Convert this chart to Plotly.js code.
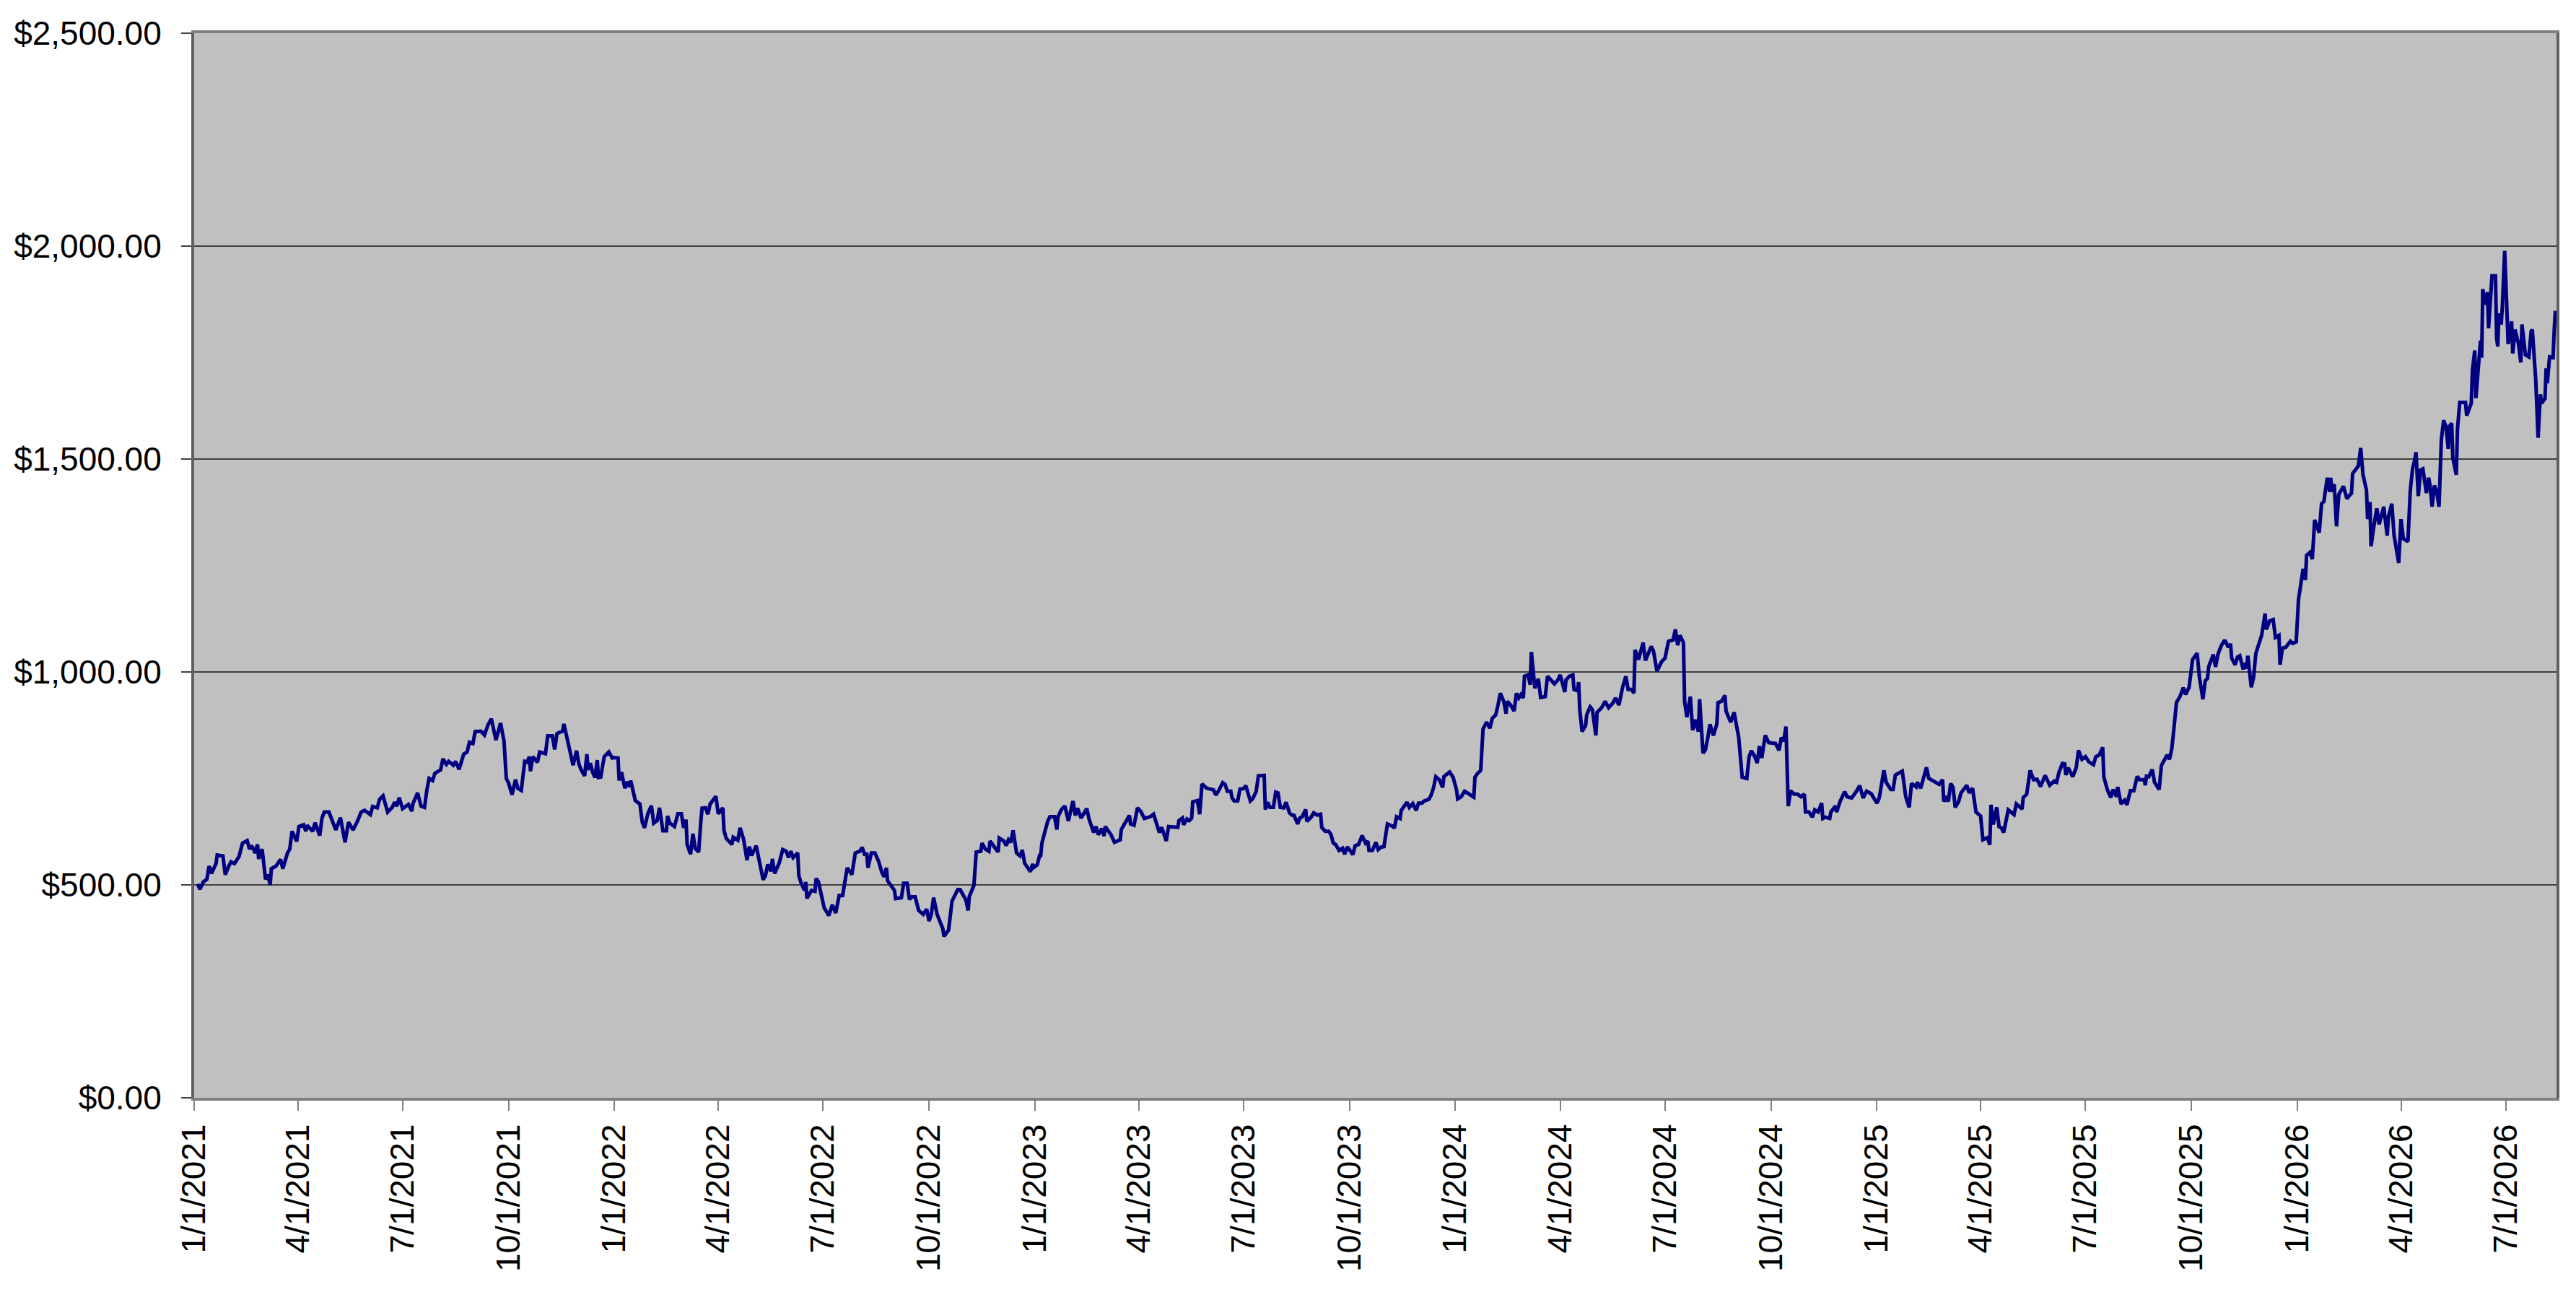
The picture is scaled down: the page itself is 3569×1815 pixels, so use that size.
<!DOCTYPE html>
<html>
<head>
<meta charset="utf-8">
<script src="https://cdn.plot.ly/plotly-3.0.1.min.js"></script>
<style>
  html, body { margin: 0; padding: 0; background: #fff; }
  #plotdiv { width: 3569px; height: 1815px; }
</style>
</head>
<body>
<div id="plotdiv"></div>
<script>
'use strict'
/* global Plotly */

// price series, split by year
// days = calendar days since 1/1/2021, vals = price in $
const START_DATE = Date.UTC(2021, 0, 1)

const days21 = [3, 5, 8, 11, 13, 15, 19, 20, 25, 27, 30, 32, 35, 39, 42, 46, 48, 50, 53, 55, 56, 59, 62, 64, 66, 67, 71, 75, 77, 81, 83, 85, 89, 91, 95, 97, 98, 103, 105, 109, 111, 113, 117, 120, 123, 127, 131, 134, 138, 142, 145, 148, 153, 155, 159, 161, 164, 168, 172, 174, 176, 178, 181, 186, 189, 190, 194, 197, 200, 202, 204, 207, 209, 214, 216, 219, 221, 225, 227, 230, 234, 237, 239, 242, 244, 249, 252, 255, 258, 259, 262, 266, 269, 271, 273, 276, 279, 281, 284, 287, 289, 291, 292, 294, 298, 300, 305, 307, 311, 313, 315, 317, 320, 321, 323, 327, 329, 332, 334, 336, 339, 341, 342, 344, 346, 348, 350, 351, 353, 356, 360, 363]
const vals21 = [502, 490, 507, 513, 544, 527, 550, 570, 568, 524, 544, 554, 550, 567, 598, 604, 584, 592, 575, 595, 561, 584, 513, 524, 500, 538, 544, 560, 538, 575, 584, 626, 602, 637, 641, 626, 640, 626, 646, 616, 657, 671, 671, 649, 629, 658, 600, 647, 629, 651, 671, 675, 665, 684, 681, 701, 709, 671, 682, 694, 685, 705, 679, 689, 673, 691, 716, 685, 682, 722, 750, 745, 762, 770, 796, 783, 790, 781, 790, 771, 807, 812, 835, 832, 860, 861, 852, 875, 890, 878, 840, 880, 838, 750, 739, 712, 747, 727, 722, 790, 788, 801, 767, 801, 788, 812, 808, 850, 850, 818, 855, 858, 861, 878, 852, 807, 781, 815, 784, 770, 756, 807, 770, 786, 764, 752, 793, 752, 753, 801, 812, 798]

const days22 = [364, 368, 369, 371, 374, 376, 378, 379, 383, 387, 389, 391, 394, 397, 399, 402, 404, 407, 410, 411, 413, 417, 420, 423, 425, 427, 428, 431, 433, 435, 438, 440, 441, 444, 446, 448, 453, 455, 459, 460, 462, 467, 468, 472, 474, 477, 480, 482, 484, 488, 491, 494, 496, 498, 501, 502, 504, 508, 511, 514, 516, 518, 520, 524, 525, 527, 530, 531, 532, 536, 539, 540, 542, 544, 547, 551, 554, 557, 560, 563, 566, 567, 571, 574, 578, 580, 582, 584, 585, 588, 591, 594, 597, 599, 601, 602, 608, 609, 614, 616, 619, 621, 623, 626, 629, 633, 636, 638, 640, 642, 645, 648, 650, 651, 655, 658, 663, 665, 667, 670, 672, 673, 677, 679, 683, 684, 687, 690, 691, 694, 698, 699, 703, 705, 707, 709, 711, 714, 717, 719, 721, 726]
const vals22 = [799, 798, 745, 765, 727, 742, 730, 745, 698, 690, 648, 634, 668, 686, 645, 651, 681, 627, 627, 662, 645, 637, 667, 667, 634, 653, 595, 572, 620, 586, 577, 653, 680, 681, 666, 690, 708, 667, 681, 628, 609, 595, 612, 605, 634, 607, 558, 590, 569, 592, 550, 512, 522, 548, 532, 561, 527, 552, 583, 579, 564, 579, 564, 575, 521, 504, 487, 507, 468, 487, 485, 515, 507, 479, 446, 428, 453, 434, 475, 475, 532, 540, 524, 575, 579, 588, 572, 572, 540, 575, 575, 557, 530, 519, 540, 510, 487, 468, 470, 504, 504, 466, 472, 472, 440, 431, 443, 415, 431, 470, 431, 408, 397, 379, 394, 462, 489, 489, 479, 465, 440, 473, 499, 577, 579, 598, 584, 579, 603, 592, 577, 610, 603, 592, 606, 600, 628, 575, 568, 582, 551, 531]

const days23 = [728, 729, 732, 734, 735, 736, 738, 741, 743, 747, 749, 750, 753, 756, 759, 763, 765, 767, 770, 775, 777, 781, 783, 785, 788, 790, 791, 796, 799, 804, 805, 809, 812, 813, 816, 819, 822, 825, 830, 833, 836, 838, 840, 844, 846, 850, 854, 855, 858, 859, 862, 864, 866, 867, 871, 873, 875, 879, 882, 885, 887, 889, 893, 895, 897, 900, 901, 903, 906, 908, 911, 913, 917, 919, 922, 924, 929, 930, 932, 934, 937, 939, 941, 943, 946, 948, 951, 953, 955, 958, 960, 962, 965, 966, 970, 972, 975, 978, 979, 982, 985, 987, 989, 991, 994, 997, 999, 1001, 1003, 1006, 1008, 1011, 1014, 1017, 1019, 1020, 1023, 1026, 1028, 1030, 1033, 1035, 1036, 1041, 1042, 1044, 1047, 1048, 1053, 1055, 1058, 1061, 1063, 1066, 1068, 1072, 1074, 1076, 1078, 1081, 1084, 1085, 1087, 1090, 1093, 1096]
const vals23 = [549, 541, 547, 569, 569, 598, 619, 649, 660, 660, 630, 660, 677, 685, 650, 697, 663, 680, 657, 679, 654, 623, 637, 618, 632, 615, 637, 618, 600, 606, 630, 647, 663, 643, 640, 681, 672, 656, 660, 666, 640, 623, 635, 603, 637, 635, 635, 651, 657, 641, 655, 651, 657, 695, 698, 666, 737, 727, 726, 723, 711, 719, 740, 736, 720, 720, 705, 697, 697, 725, 726, 733, 697, 702, 719, 756, 757, 677, 694, 682, 682, 718, 716, 682, 681, 694, 669, 664, 663, 643, 657, 660, 677, 649, 660, 669, 664, 666, 635, 626, 626, 618, 598, 595, 581, 586, 572, 589, 583, 571, 592, 595, 616, 598, 603, 581, 581, 600, 583, 588, 590, 618, 643, 637, 633, 660, 656, 675, 694, 682, 691, 675, 692, 692, 697, 701, 711, 728, 754, 747, 729, 754, 759, 765, 753, 723]

const days24 = [1097, 1100, 1103, 1107, 1111, 1112, 1114, 1117, 1119, 1122, 1125, 1127, 1130, 1132, 1134, 1137, 1139, 1140, 1143, 1146, 1148, 1150, 1152, 1154, 1155, 1158, 1160, 1161, 1163, 1164, 1167, 1169, 1173, 1175, 1178, 1181, 1184, 1186, 1190, 1191, 1194, 1197, 1198, 1201, 1202, 1203, 1205, 1208, 1209, 1212, 1214, 1217, 1218, 1222, 1225, 1228, 1232, 1234, 1237, 1240, 1243, 1245, 1248, 1250, 1251, 1254, 1258, 1260, 1265, 1267, 1270, 1274, 1277, 1280, 1284, 1286, 1288, 1290, 1293, 1294, 1296, 1299, 1301, 1303, 1306, 1307, 1310, 1312, 1314, 1316, 1319, 1322, 1323, 1326, 1329, 1330, 1334, 1337, 1341, 1344, 1348, 1350, 1352, 1355, 1357, 1359, 1361, 1364, 1367, 1371, 1373, 1376, 1378, 1380, 1382, 1384, 1386, 1389, 1392, 1395, 1398, 1399, 1402, 1405, 1407, 1410, 1413, 1414, 1416, 1420, 1421, 1425, 1426, 1429, 1433, 1435, 1439, 1443, 1446, 1449, 1452, 1456, 1461, 1463]
const vals24 = [702, 707, 720, 712, 706, 753, 761, 769, 866, 882, 868, 891, 899, 922, 950, 931, 902, 931, 922, 908, 950, 939, 947, 939, 990, 993, 970, 1047, 984, 962, 984, 940, 942, 990, 981, 972, 981, 993, 953, 981, 990, 993, 959, 956, 976, 911, 860, 874, 899, 918, 911, 851, 905, 916, 931, 916, 928, 939, 922, 962, 990, 959, 959, 950, 1052, 1029, 1069, 1027, 1060, 1049, 1002, 1024, 1032, 1072, 1075, 1100, 1063, 1086, 1069, 931, 894, 942, 863, 888, 860, 936, 809, 817, 843, 877, 851, 878, 928, 931, 945, 908, 882, 905, 846, 753, 750, 801, 815, 801, 786, 826, 798, 851, 834, 832, 832, 816, 846, 837, 872, 685, 721, 713, 713, 707, 713, 671, 671, 659, 676, 671, 692, 656, 659, 656, 671, 685, 671, 696, 719, 707, 704, 719, 733, 704, 720, 714, 692, 704]

const days25 = [1467, 1469, 1473, 1475, 1477, 1483, 1486, 1489, 1491, 1495, 1496, 1499, 1504, 1506, 1511, 1515, 1518, 1519, 1521, 1523, 1525, 1527, 1529, 1532, 1534, 1539, 1541, 1544, 1547, 1551, 1553, 1557, 1559, 1560, 1562, 1565, 1567, 1569, 1571, 1575, 1580, 1582, 1587, 1588, 1591, 1594, 1597, 1600, 1603, 1607, 1611, 1615, 1617, 1619, 1622, 1624, 1625, 1627, 1631, 1634, 1636, 1639, 1642, 1645, 1649, 1651, 1654, 1657, 1658, 1661, 1664, 1666, 1669, 1670, 1673, 1676, 1678, 1681, 1684, 1687, 1689, 1693, 1694, 1695, 1697, 1700, 1702, 1706, 1708, 1713, 1715, 1717, 1719, 1721, 1724, 1727, 1729, 1732, 1735, 1739, 1741, 1744, 1746, 1748, 1749, 1753, 1755, 1757, 1760, 1763, 1766, 1768, 1769, 1772, 1774, 1776, 1779, 1780, 1782, 1783, 1786, 1788, 1790, 1795, 1798, 1799, 1802, 1805]
const vals25 = [769, 741, 724, 724, 758, 767, 707, 682, 738, 730, 741, 727, 776, 750, 741, 736, 747, 696, 704, 696, 738, 730, 682, 696, 716, 734, 716, 727, 671, 662, 606, 611, 594, 688, 642, 682, 637, 634, 623, 676, 665, 690, 678, 705, 713, 769, 747, 748, 731, 757, 734, 744, 741, 764, 785, 784, 758, 775, 754, 775, 816, 795, 801, 789, 782, 801, 805, 823, 753, 724, 705, 724, 707, 730, 690, 699, 688, 721, 721, 755, 747, 747, 734, 755, 754, 771, 741, 724, 781, 805, 795, 820, 871, 928, 942, 963, 947, 964, 1029, 1044, 987, 936, 979, 985, 1012, 1041, 1012, 1041, 1062, 1075, 1058, 1066, 1032, 1017, 1035, 1038, 1006, 1021, 1008, 1038, 964, 987, 1044, 1086, 1137, 1100, 1120, 1123]

const days26 = [1807, 1810, 1811, 1813, 1816, 1820, 1822, 1825, 1827, 1831, 1833, 1834, 1837, 1839, 1841, 1845, 1847, 1849, 1852, 1854, 1855, 1856, 1858, 1860, 1862, 1866, 1869, 1873, 1874, 1879, 1881, 1883, 1886, 1887, 1889, 1890, 1892, 1895, 1897, 1901, 1904, 1905, 1908, 1910, 1914, 1916, 1918, 1922, 1924, 1926, 1928, 1929, 1931, 1933, 1935, 1938, 1940, 1941, 1943, 1945, 1947, 1949, 1951, 1953, 1955, 1957, 1958, 1960, 1961, 1964, 1965, 1967, 1972, 1973, 1977, 1978, 1980, 1981, 1985, 1986, 1987, 1989, 1991, 1992, 1995, 1998, 1999, 2000, 2001, 2003, 2004, 2006, 2009, 2011, 2012, 2013, 2015, 2018, 2020, 2021, 2024, 2027, 2029, 2030, 2033, 2035, 2037, 2038, 2041, 2042, 2043, 2045, 2048, 2049, 2050]
const vals26 = [1081, 1086, 1017, 1056, 1058, 1072, 1067, 1071, 1170, 1242, 1216, 1274, 1281, 1265, 1357, 1327, 1395, 1400, 1456, 1423, 1456, 1423, 1441, 1342, 1417, 1436, 1407, 1420, 1466, 1484, 1526, 1463, 1427, 1359, 1399, 1295, 1335, 1384, 1347, 1388, 1320, 1363, 1395, 1320, 1256, 1359, 1313, 1306, 1424, 1477, 1499, 1516, 1413, 1474, 1477, 1420, 1456, 1441, 1388, 1438, 1424, 1388, 1545, 1591, 1577, 1524, 1577, 1584, 1502, 1463, 1570, 1633, 1633, 1602, 1631, 1709, 1755, 1643, 1778, 1738, 1899, 1862, 1892, 1807, 1930, 1930, 1784, 1764, 1842, 1816, 1859, 1989, 1770, 1798, 1823, 1748, 1804, 1770, 1727, 1816, 1745, 1740, 1800, 1804, 1684, 1550, 1652, 1631, 1642, 1713, 1678, 1740, 1738, 1802, 1848]

const yTicks = [0, 500, 1000, 1500, 2000, 2500]

const FONT = 'Liberation Sans, Arial, sans-serif'

function toDate (d) {
  // day offset -> yyyy-mm-dd
  return new Date(START_DATE + d * 86400000).toISOString().slice(0, 10)
}

const allDays = [].concat(days21, days22, days23, days24, days25, days26)
const allVals = [].concat(vals21, vals22, vals23, vals24, vals25, vals26)

const trace = {
  x: allDays.map(toDate),
  y: allVals,
  type: 'scatter',
  mode: 'lines',
  line: {color: '#000080', width: 5},
  hoverinfo: 'skip'
}

const layout = {
  width: 3569,
  height: 1815,
  margin: {l: 269, r: 27, t: 46, b: 294, pad: 0},
  paper_bgcolor: '#ffffff',
  plot_bgcolor: '#c0c0c0',
  showlegend: false,
  font: {family: FONT, size: 46, color: '#000000'},
  xaxis: {
    type: 'date',
    range: ['2021-01-01', '2026-08-14'],
    tick0: '2021-01-01',
    dtick: 'M3',
    tickformat: '%-m/%-d/%Y',
    tickangle: -90,
    ticks: 'outside',
    ticklen: 14,
    tickwidth: 2,
    tickcolor: '#808080',
    showgrid: false,
    zeroline: false,
    showline: true,
    linecolor: '#808080',
    linewidth: 4,
    mirror: true,
    tickfont: {family: FONT, size: 46, color: '#000000'}
  },
  yaxis: {
    range: [0, 2500],
    tickvals: yTicks,
    tickformat: '$,.2f',
    ticks: 'outside',
    ticklen: 14,
    tickwidth: 2,
    tickcolor: '#404040',
    ticklabelstandoff: 18,
    showgrid: true,
    gridcolor: '#404040',
    gridwidth: 2,
    zeroline: false,
    showline: true,
    linecolor: '#606060',
    linewidth: 4,
    mirror: true,
    tickfont: {family: FONT, size: 46, color: '#000000'}
  }
}

const config = {displaylogo: false, displayModeBar: false, staticPlot: true}

Plotly.newPlot('plotdiv', [trace], layout, config)
</script>
</body>
</html>
